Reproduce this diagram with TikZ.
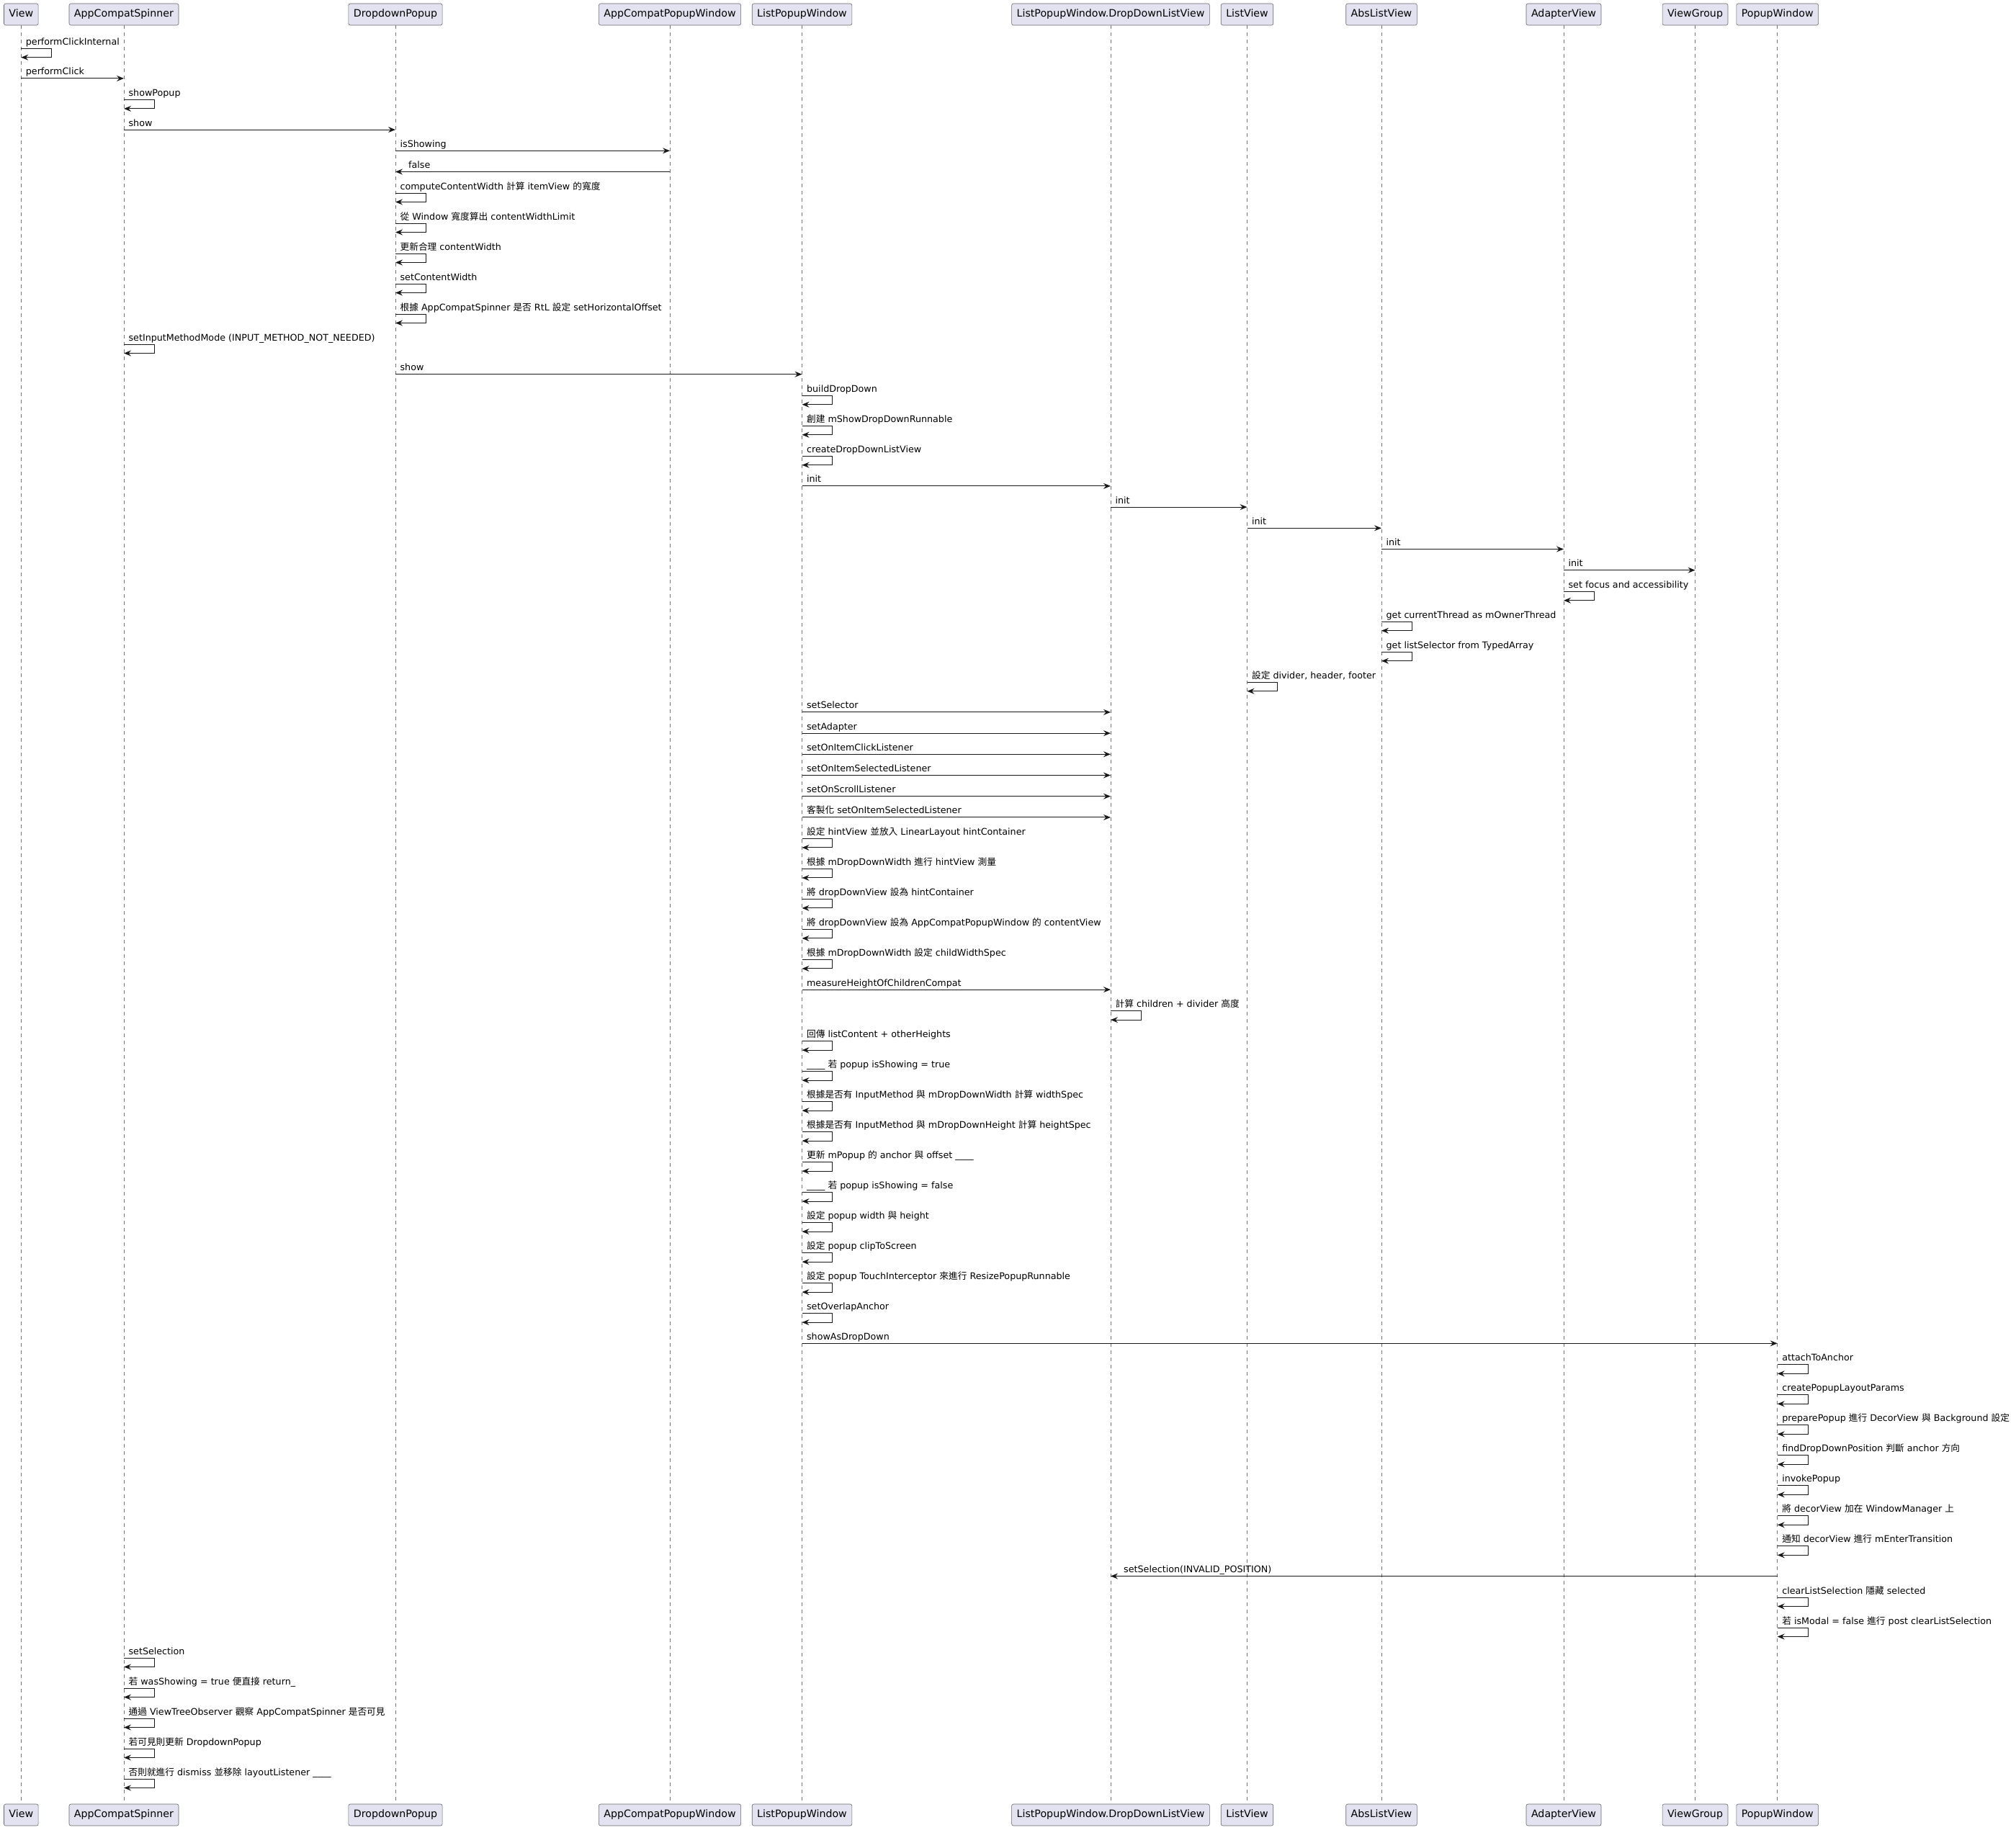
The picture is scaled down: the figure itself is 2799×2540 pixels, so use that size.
\documentclass[tikz,border=0pt]{standalone}
\usepackage{fontspec}
\setmainfont{DejaVu Sans}
\newfontfamily\cjk{Noto Sans CJK TC}
\usetikzlibrary{arrows.meta}

\definecolor{partfill}{HTML}{E2E2F0}
\definecolor{umlline}{HTML}{181818}

\newcommand\zh[1]{{\cjk #1}}
\newcommand\stepy[1]{\pgfmathsetmacro\tmpy{\seqy+#1}\xdef\seqy{\tmpy}}
\newcounter{msgno}

% call from left to right
\newcommand\callmsg[3]{%
  \stepy{29.2}\stepcounter{msgno}%
  \draw[msg] (#1 |- 0,\seqy) -- (#2 |- 0,\seqy);
  \path (#1 |- 0,\seqy) ++(6.4,-5) node[msglabel] (msg\arabic{msgno}) {#3};
}
% answer from right to left
\newcommand\replymsg[3]{%
  \stepy{29.2}\stepcounter{msgno}%
  \draw[msg] (#1 |- 0,\seqy) -- (#2 |- 0,\seqy);
  \path (#2 |- 0,\seqy) ++(18,-5) node[msglabel] (msg\arabic{msgno}) {#3};
}
% message to itself
\newcommand\selfmsg[2]{%
  \stepy{29.6}\stepcounter{msgno}%
  \draw[msg] (#1 |- 0,\seqy) -- ++(42.4,0) -- ++(0,12.4) -- ++(-42.4,0);
  \path (#1 |- 0,\seqy) ++(6.4,-5) node[msglabel] (msg\arabic{msgno}) {#2};
  \stepy{12.4}%
}

\begin{document}
\begin{tikzpicture}[
  x=1pt, y=-1pt,
  participant/.style={draw=black!60, line width=0.6pt, fill=partfill, rounded corners=2.5pt,
    minimum height=30pt, inner xsep=7pt, inner ysep=0pt, text height=10.6pt, text depth=2.8pt,
    font=\fontsize{14.2pt}{17pt}\selectfont},
  lifeline/.style={draw=black!55, line width=0.6pt, dash pattern=on 5pt off 5pt},
  msg/.style={draw=umlline, line width=1pt, -{Stealth[length=10pt,width=8pt,inset=3.5pt]}},
  msglabel/.style={anchor=base west, inner sep=0pt, text=black, font=\fontsize{12.7pt}{15pt}\selectfont}
]
  \useasboundingbox (0,0) rectangle (2799,2540);

  \foreach \pname/\px/\plabel in {view/29.3/View, spinner/172/AppCompatSpinner,
      dropdown/549/DropdownPopup, compatpopup/930/AppCompatPopupWindow,
      listpopup/1113.5/ListPopupWindow, dropdownlist/1542/ListPopupWindow.DropDownListView,
      listview/1731.5/ListView, abslist/1918/AbsListView, adapter/2171/AdapterView,
      viewgroup/2353.5/ViewGroup, popup/2467.7/PopupWindow} {
    \node[participant] (\pname) at (\px,20) {\plabel};
    \node[participant] (\pname-b) at (\px,2520) {\plabel};
    \draw[lifeline] (\pname.south) -- (\pname-b.north);
  }

  \gdef\seqy{37.7}
  \selfmsg{view}{performClickInternal}
  \callmsg{view}{spinner}{performClick}
  \selfmsg{spinner}{showPopup}
  \callmsg{spinner}{dropdown}{show}
  \callmsg{dropdown}{compatpopup}{isShowing}
  \replymsg{compatpopup}{dropdown}{false}
  \selfmsg{dropdown}{computeContentWidth \zh{計算} itemView \zh{的寬度}}
  \selfmsg{dropdown}{\zh{從} Window \zh{寬度算出} contentWidthLimit}
  \selfmsg{dropdown}{\zh{更新合理} contentWidth}
  \selfmsg{dropdown}{setContentWidth}
  \selfmsg{dropdown}{\zh{根據} AppCompatSpinner \zh{是否} RtL \zh{設定} setHorizontalOffset}
  \selfmsg{spinner}{setInputMethodMode (INPUT\_METHOD\_NOT\_NEEDED)}
  \callmsg{dropdown}{listpopup}{show}
  \selfmsg{listpopup}{buildDropDown}
  \selfmsg{listpopup}{\zh{創建} mShowDropDownRunnable}
  \selfmsg{listpopup}{createDropDownListView}
  \callmsg{listpopup}{dropdownlist}{init}
  \callmsg{dropdownlist}{listview}{init}
  \callmsg{listview}{abslist}{init}
  \callmsg{abslist}{adapter}{init}
  \callmsg{adapter}{viewgroup}{init}
  \selfmsg{adapter}{set focus and accessibility}
  \selfmsg{abslist}{get currentThread as mOwnerThread}
  \selfmsg{abslist}{get listSelector from TypedArray}
  \selfmsg{listview}{\zh{設定} divider, header, footer}
  \callmsg{listpopup}{dropdownlist}{setSelector}
  \callmsg{listpopup}{dropdownlist}{setAdapter}
  \callmsg{listpopup}{dropdownlist}{setOnItemClickListener}
  \callmsg{listpopup}{dropdownlist}{setOnItemSelectedListener}
  \callmsg{listpopup}{dropdownlist}{setOnScrollListener}
  \callmsg{listpopup}{dropdownlist}{\zh{客製化} setOnItemSelectedListener}
  \selfmsg{listpopup}{\zh{設定} hintView \zh{並放入} LinearLayout hintContainer}
  \selfmsg{listpopup}{\zh{根據} mDropDownWidth \zh{進行} hintView \zh{測量}}
  \selfmsg{listpopup}{\zh{將} dropDownView \zh{設為} hintContainer}
  \selfmsg{listpopup}{\zh{將} dropDownView \zh{設為} AppCompatPopupWindow \zh{的} contentView}
  \selfmsg{listpopup}{\zh{根據} mDropDownWidth \zh{設定} childWidthSpec}
  \callmsg{listpopup}{dropdownlist}{measureHeightOfChildrenCompat}
  \selfmsg{dropdownlist}{\zh{計算} children + divider \zh{高度}}
  \selfmsg{listpopup}{\zh{回傳} listContent + otherHeights}
  \selfmsg{listpopup}{\_\_\_\_ \zh{若} popup isShowing = true}
  \selfmsg{listpopup}{\zh{根據是否有} InputMethod \zh{與} mDropDownWidth \zh{計算} widthSpec}
  \selfmsg{listpopup}{\zh{根據是否有} InputMethod \zh{與} mDropDownHeight \zh{計算} heightSpec}
  \selfmsg{listpopup}{\zh{更新} mPopup \zh{的} anchor \zh{與} offset \_\_\_\_}
  \selfmsg{listpopup}{\_\_\_\_ \zh{若} popup isShowing = false}
  \selfmsg{listpopup}{\zh{設定} popup width \zh{與} height}
  \selfmsg{listpopup}{\zh{設定} popup clipToScreen}
  \selfmsg{listpopup}{\zh{設定} popup TouchInterceptor \zh{來進行} ResizePopupRunnable}
  \selfmsg{listpopup}{setOverlapAnchor}
  \callmsg{listpopup}{popup}{showAsDropDown}
  \selfmsg{popup}{attachToAnchor}
  \selfmsg{popup}{createPopupLayoutParams}
  \selfmsg{popup}{preparePopup \zh{進行} DecorView \zh{與} Background \zh{設定}}
  \selfmsg{popup}{findDropDownPosition \zh{判斷} anchor \zh{方向}}
  \selfmsg{popup}{invokePopup}
  \selfmsg{popup}{\zh{將} decorView \zh{加在} WindowManager \zh{上}}
  \selfmsg{popup}{\zh{通知} decorView \zh{進行} mEnterTransition}
  \replymsg{popup}{dropdownlist}{setSelection(INVALID\_POSITION)}
  \selfmsg{popup}{clearListSelection \zh{隱藏} selected}
  \selfmsg{popup}{\zh{若} isModal = false \zh{進行} post clearListSelection}
  \selfmsg{spinner}{setSelection}
  \selfmsg{spinner}{\zh{若} wasShowing = true \zh{便直接} return\_}
  \selfmsg{spinner}{\zh{通過} ViewTreeObserver \zh{觀察} AppCompatSpinner \zh{是否可見}}
  \selfmsg{spinner}{\zh{若可見則更新} DropdownPopup}
  \selfmsg{spinner}{\zh{否則就進行} dismiss \zh{並移除} layoutListener \_\_\_\_}
\end{tikzpicture}
\end{document}
